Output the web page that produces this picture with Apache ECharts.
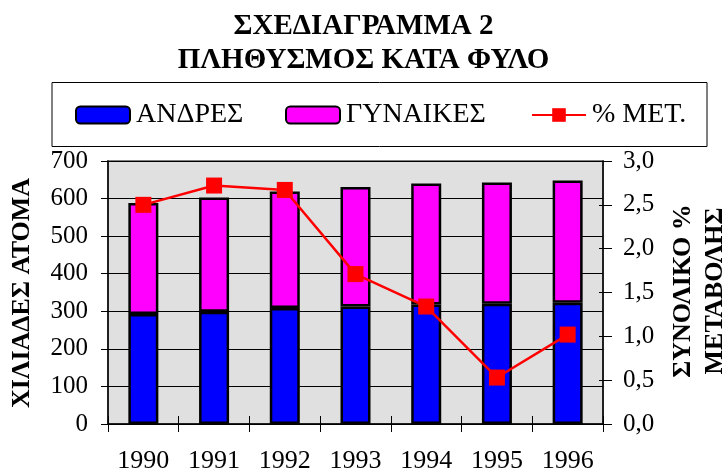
<!DOCTYPE html>
<html>
<head>
<meta charset="utf-8">
<script src="https://cdn.jsdelivr.net/npm/echarts@6/dist/echarts.min.js"></script>
<style>
  html, body { margin: 0; padding: 0; background: #fff; }
  #main { width: 727px; height: 470px; }
</style>
</head>
<body>
<div id="main"></div>
<script>
// data
var years = ['1990', '1991', '1992', '1993', '1994', '1995', '1996'];
var men = [293, 299, 309, 313, 318, 320, 323];
var women = [295, 304, 310, 318, 322, 323, 325];
var pctChange = [2.50, 2.72, 2.67, 1.71, 1.34, 0.53, 1.02];

var titleText = 'ΣΧΕΔΙΑΓΡΑΜΜΑ 2\nΠΛΗΘΥΣΜΟΣ ΚΑΤΑ ΦΥΛΟ';
var leftName = 'ΧΙΛΙΑΔΕΣ ΑΤΟΜΑ';
var rightName1 = 'ΣΥΝΟΛΙΚΟ %';
var rightName2 = 'ΜΕΤΑΒΟΛΗΣ';
var names = ['ΑΝΔΡΕΣ', 'ΓΥΝΑΙΚΕΣ', '% ΜΕΤ.'];

var FONT = '"Liberation Serif", "DejaVu Serif", serif';

var chartDom = document.getElementById('main');
var myChart = echarts.init(chartDom);

function legendAt(left, name) {
  return {
    data: [name],
    left: left,
    top: 101,
    padding: 0,
    itemWidth: 54,
    itemHeight: 17,
    itemGap: 0,
    selectedMode: false,
    textStyle: { fontFamily: FONT, fontSize: 28, color: '#000', padding: [0, 0, 0, 1] }
  };
}

var option = {
  animation: false,
  title: {
    text: titleText,
    left: 'center',
    top: 5,
    textStyle: {
      fontFamily: FONT,
      fontWeight: 'bold',
      fontSize: 29,
      lineHeight: 34,
      color: '#000'
    }
  },
  legend: [
    legendAt(75, names[0]),
    legendAt(285, names[1]),
    legendAt(531, names[2])
  ],
  graphic: [
    {
      type: 'rect',
      shape: { x: 52, y: 82.5, width: 655, height: 64 },
      style: { fill: 'none', stroke: '#000', lineWidth: 1 },
      silent: true
    },
    {
      type: 'text',
      x: 22, y: 293,
      rotation: Math.PI / 2,
      style: { text: leftName, font: 'bold 26px ' + FONT, fill: '#000', align: 'center', verticalAlign: 'middle' }
    },
    {
      type: 'text',
      x: 683, y: 291,
      rotation: Math.PI / 2,
      style: { text: rightName1, font: 'bold 26px ' + FONT, fill: '#000', align: 'center', verticalAlign: 'middle' }
    },
    {
      type: 'text',
      x: 715, y: 291,
      rotation: Math.PI / 2,
      style: { text: rightName2, font: 'bold 26px ' + FONT, fill: '#000', align: 'center', verticalAlign: 'middle' }
    }
  ],
  grid: {
    left: 108,
    right: 124,
    top: 161,
    bottom: 46,
    outerBoundsMode: 'none',
    containLabel: false,
    show: true,
    backgroundColor: '#e0e0e0',
    borderColor: '#808080',
    borderWidth: 2
  },
  xAxis: [
    {
      type: 'category',
      data: years,
      axisLine: { lineStyle: { color: '#000', width: 1.5 } },
      axisTick: { show: true, length: 8, lineStyle: { color: '#000' } },
      axisLabel: { fontFamily: FONT, fontSize: 26, color: '#000', margin: 24 }
    },
    {
      type: 'category',
      data: years,
      position: 'bottom',
      axisLine: { show: false },
      axisTick: { show: true, inside: true, length: 8, lineStyle: { color: '#000' } },
      axisLabel: { show: false }
    }
  ],
  yAxis: [
    {
      type: 'value',
      min: 0,
      max: 700,
      interval: 100,
      axisLine: { show: true, lineStyle: { color: '#000', width: 1.5 } },
      axisTick: { show: true, length: 7, lineStyle: { color: '#000' } },
      axisLabel: { fontFamily: FONT, fontSize: 25, color: '#000', margin: 20 },
      splitLine: { show: true, lineStyle: { color: '#000', width: 1 } }
    },
    {
      type: 'value',
      position: 'right',
      min: 0,
      max: 3,
      interval: 0.5,
      axisLine: { show: true, lineStyle: { color: '#000', width: 1.5 } },
      axisTick: { show: true, length: 9, lineStyle: { color: '#000' } },
      axisLabel: {
        fontFamily: FONT, fontSize: 25, color: '#000', margin: 20,
        formatter: function (v) { return v.toFixed(1).replace('.', ','); }
      },
      splitLine: { show: false }
    },
    {
      type: 'value',
      position: 'right',
      min: 0,
      max: 3,
      interval: 0.5,
      axisLine: { show: false },
      axisTick: { show: true, inside: true, length: 4, lineStyle: { color: '#000' } },
      axisLabel: { show: false },
      splitLine: { show: false }
    }
  ],
  series: [
    {
      name: names[0],
      type: 'bar',
      stack: 'pop',
      barWidth: 30,
      data: men,
      itemStyle: { color: '#0000ff', borderColor: '#000', borderWidth: 2.5 }
    },
    {
      name: names[1],
      type: 'bar',
      stack: 'pop',
      barWidth: 30,
      data: women,
      itemStyle: { color: '#ff00ff', borderColor: '#000', borderWidth: 2.5 }
    },
    {
      name: names[2],
      type: 'line',
      yAxisIndex: 1,
      data: pctChange,
      symbol: 'rect',
      symbolSize: 16,
      lineStyle: { color: '#ff0000', width: 2.5 },
      itemStyle: { color: '#ff0000' }
    }
  ]
};

option && myChart.setOption(option);
</script>
</body>
</html>
